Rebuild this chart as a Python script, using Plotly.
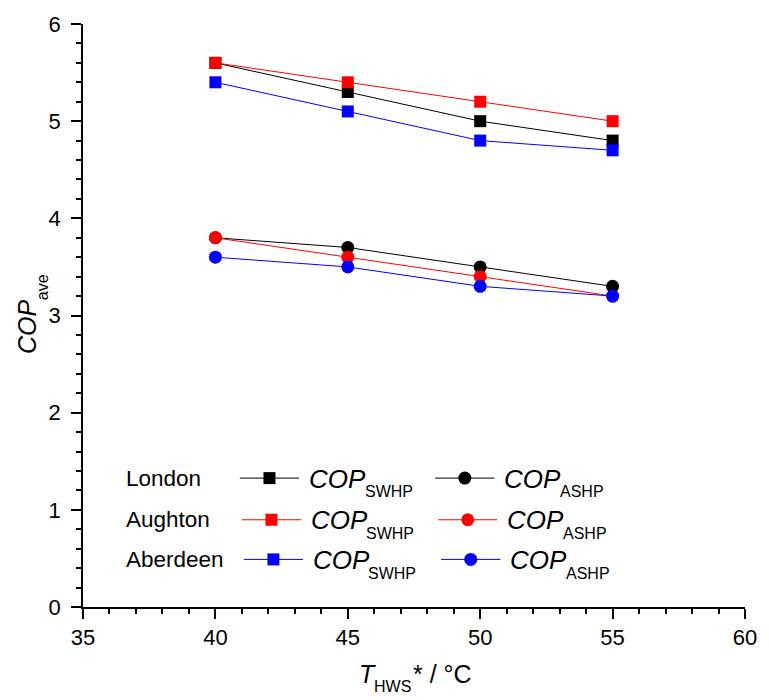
import plotly.graph_objects as go

# ---- data ----
t_hws = [40, 45, 50, 55]
cities = ["London", "Aughton", "Aberdeen"]
colors = ["#000000", "#FF0000", "#0000FF"]
cop_swhp = {
    "London": [5.6, 5.3, 5.0, 4.8],
    "Aughton": [5.6, 5.4, 5.2, 5.0],
    "Aberdeen": [5.4, 5.1, 4.8, 4.7],
}
cop_ashp = {
    "London": [3.8, 3.7, 3.5, 3.3],
    "Aughton": [3.8, 3.6, 3.4, 3.2],
    "Aberdeen": [3.6, 3.5, 3.3, 3.2],
}
x_ticks = [35, 40, 45, 50, 55, 60]
y_ticks = [0, 1, 2, 3, 4, 5, 6]

FONT = "Arial, Liberation Sans, sans-serif"

# plot-area geometry (pixels)
L, R, T, B = 83, 754, 19, 607
W, H = 769, 700


def px(xp):
    return (xp - L) / (R - L)


def py(yp):
    return (B - yp) / (B - T)


# baseline -> middle offset for Liberation Sans / Arial
def mid_from_base(base, size):
    return base - 0.3465 * size


annotations = []


def text(xp, yp_base, s, size, anchor="left", angle=0, italic=False):
    t = "<i>%s</i>" % s if italic else s
    if angle == 0:
        annotations.append(dict(
            x=px(xp), y=py(mid_from_base(yp_base, size)), xref="paper", yref="paper",
            text=t, showarrow=False, xanchor=anchor, yanchor="middle",
            borderpad=0, borderwidth=0,
            font=dict(family=FONT, size=size, color="black")))
    else:
        # rotated -90: xp is baseline x, yp_base is text centre y
        annotations.append(dict(
            x=px(xp - 0.3465 * size), y=py(yp_base), xref="paper", yref="paper",
            text=t, showarrow=False, xanchor="center", yanchor="middle",
            textangle=-90, borderpad=0, borderwidth=0,
            font=dict(family=FONT, size=size, color="black")))


fig = go.Figure()

# ASHP (circles) then SWHP (squares)
for city, col in zip(cities, colors):
    fig.add_trace(go.Scatter(
        x=t_hws, y=cop_ashp[city], mode="lines+markers",
        line=dict(color=col, width=1),
        marker=dict(symbol="circle", size=13, color=col),
        showlegend=False))
for city, col in zip(cities, colors):
    fig.add_trace(go.Scatter(
        x=t_hws, y=cop_swhp[city], mode="lines+markers",
        line=dict(color=col, width=1),
        marker=dict(symbol="square", size=12, color=col),
        showlegend=False))

# ---- custom legend drawn in pixel-like overlay coordinates ----
row_y = [477, 519, 559]
col1_c = [272, 274, 276]
col2_c = [470, 473, 476]
half = 30
MAIN, SUBS = 26, 16
COP_W = 2.167 * MAIN
for i, (city, col) in enumerate(zip(cities, colors)):
    y = row_y[i]
    for cx, sym, sub in [(col1_c[i], "square", "SWHP"), (col2_c[i], "circle", "ASHP")]:
        fig.add_trace(go.Scatter(
            x=[cx - half, cx + half], y=[y, y], mode="lines",
            line=dict(color=col, width=1), xaxis="x2", yaxis="y2",
            showlegend=False, hoverinfo="skip"))
        fig.add_trace(go.Scatter(
            x=[cx], y=[y], mode="markers",
            marker=dict(symbol=sym, size=12 if sym == "square" else 13, color=col),
            xaxis="x2", yaxis="y2", showlegend=False, hoverinfo="skip"))
        x0 = cx + half + 10
        text(x0, y + 9.5, "COP", MAIN, italic=True)
        text(x0 + COP_W, y + 19.5, sub, SUBS)
    text(127, y + 8, city, 22.5)

# x-axis title: T_HWS* / °C
text(363, 683, "T", 25, italic=True)
text(363 + 0.611 * 25, 693, "HWS", 16)
text(363 + 0.611 * 25 + 2.333 * 16 + 2, 683, "* / °C", 25)

# y-axis title: COP_ave (rotated)
text(35, 324.5, "COP", 25, angle=-90, italic=True)
text(47, 284.5, "ave", 16, angle=-90)

fig.update_layout(
    width=W, height=H,
    margin=dict(l=L, r=W - R, t=T, b=H - B),
    paper_bgcolor="white", plot_bgcolor="white",
    font=dict(family=FONT, size=22, color="black"),
    annotations=annotations,
    xaxis=dict(
        range=[35, 60], tickvals=x_ticks, ticktext=[str(v) for v in x_ticks],
        ticks="outside", ticklen=10, tickwidth=1.5, tickcolor="black",
        minor=dict(dtick=1, ticks="outside", ticklen=5, tickwidth=1.5, tickcolor="black"),
        showline=True, linecolor="black", linewidth=1.5,
        showgrid=False, zeroline=False,
        tickfont=dict(family=FONT, size=22),
    ),
    yaxis=dict(
        range=[0, 6], tickvals=y_ticks, ticktext=[str(v) for v in y_ticks],
        ticks="outside", ticklen=10, tickwidth=1.5, tickcolor="black",
        minor=dict(dtick=0.2, ticks="outside", ticklen=5, tickwidth=1.5, tickcolor="black"),
        showline=True, linecolor="black", linewidth=1.5,
        showgrid=False, zeroline=False,
        ticklabelstandoff=6,
        tickfont=dict(family=FONT, size=22),
    ),
    xaxis2=dict(overlaying="x", range=[L, R], visible=False, fixedrange=True),
    yaxis2=dict(overlaying="y", range=[B, T], visible=False, fixedrange=True),
)

fig.write_html("out.html")
